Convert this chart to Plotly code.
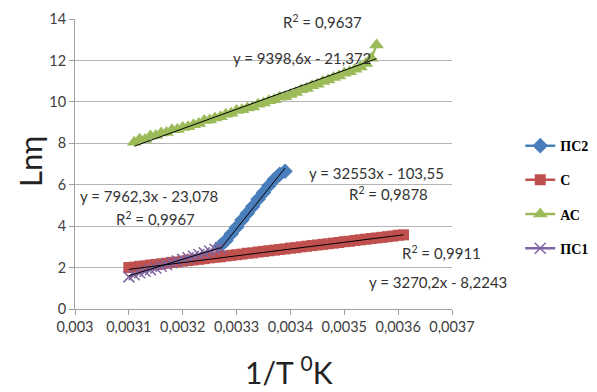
import plotly.graph_objects as go

# ---------------- data ----------------
ps2_x = [0.00327, 0.00328, 0.00329, 0.00330, 0.00331, 0.00332, 0.00333,
         0.00334, 0.00335, 0.00336, 0.00337, 0.00338, 0.00339]
ps2_y = [3.05, 3.30, 3.62, 3.95, 4.30, 4.62, 4.95, 5.30, 5.62, 5.95, 6.25, 6.50, 6.65]

c_x = [0.00310, 0.00311, 0.00312, 0.00313, 0.00314, 0.00315, 0.00316, 0.00317,
       0.00318, 0.00319, 0.00320, 0.00321, 0.00322, 0.00323, 0.00324, 0.00325,
       0.00326, 0.00327, 0.00328, 0.00329, 0.00330, 0.00331, 0.00332, 0.00333,
       0.00334, 0.00335, 0.00336, 0.00337, 0.00338, 0.00339, 0.00340, 0.00341,
       0.00342, 0.00343, 0.00344, 0.00345, 0.00346, 0.00347, 0.00348, 0.00349,
       0.00350, 0.00351, 0.00352, 0.00353, 0.00354, 0.00355, 0.00356, 0.00357,
       0.00358, 0.00359, 0.00360, 0.00361]
c_y = [2.00, 2.02, 2.06, 2.08, 2.12, 2.15, 2.18, 2.21, 2.25, 2.27, 2.31, 2.34,
       2.37, 2.40, 2.43, 2.47, 2.50, 2.52, 2.56, 2.59, 2.62, 2.65, 2.69, 2.71,
       2.75, 2.78, 2.81, 2.84, 2.87, 2.90, 2.94, 2.96, 3.00, 3.03, 3.06, 3.09,
       3.12, 3.15, 3.18, 3.21, 3.25, 3.27, 3.31, 3.34, 3.37, 3.40, 3.43, 3.46,
       3.49, 3.52, 3.56, 3.58]

ac_x = [0.00311, 0.00312, 0.00313, 0.00314, 0.00315, 0.00316, 0.00317, 0.00318,
        0.00319, 0.00320, 0.00321, 0.00322, 0.00323, 0.00324, 0.00325, 0.00326,
        0.00327, 0.00328, 0.00329, 0.00330, 0.00331, 0.00332, 0.00333, 0.00334,
        0.00335, 0.00336, 0.00337, 0.00338, 0.00339, 0.00340, 0.00341, 0.00342,
        0.00343, 0.00344, 0.00345, 0.00346, 0.00347, 0.00348, 0.00349, 0.00350,
        0.00351, 0.00352, 0.00353, 0.00354, 0.00355, 0.00356]
ac_y = [8.05, 8.20, 8.18, 8.35, 8.38, 8.50, 8.52, 8.65, 8.66, 8.76, 8.80, 8.90,
        8.95, 9.10, 9.12, 9.22, 9.28, 9.40, 9.45, 9.58, 9.62, 9.70, 9.75, 9.88,
        9.95, 10.05, 10.10, 10.22, 10.25, 10.35, 10.45, 10.58, 10.65, 10.78,
        10.85, 10.98, 11.05, 11.18, 11.25, 11.38, 11.45, 11.58, 11.68, 11.85,
        12.10, 12.75]

ps1_x = [0.00310, 0.00311, 0.00312, 0.00313, 0.00314, 0.00315, 0.00316, 0.00317,
         0.00318, 0.00319, 0.00320, 0.00321, 0.00322, 0.00323, 0.00324, 0.00325,
         0.00326, 0.00327]
ps1_y = [1.55, 1.65, 1.75, 1.82, 1.90, 1.98, 2.06, 2.15, 2.23, 2.31, 2.40, 2.47,
         2.55, 2.63, 2.71, 2.80, 2.88, 2.96]

# linear trend coefficients (slope, intercept) as printed on the chart
fit_ps2 = (32553, -103.55)
fit_c = (3270.2, -8.2243)
fit_ac = (9398.6, -21.372)
fit_ps1 = (7962.3, -23.078)

x_ticks = [0.003, 0.0031, 0.0032, 0.0033, 0.0034, 0.0035, 0.0036, 0.0037]
x_tick_text = ["0,003", "0,0031", "0,0032", "0,0033", "0,0034", "0,0035", "0,0036", "0,0037"]
y_ticks = [0, 2, 4, 6, 8, 10, 12, 14]

# ---------------- figure ----------------
BLUE = "#4a7ebb"
RED = "#c0504d"
GREEN = "#9bbb59"
PURPLE = "#8064a2"

fig = go.Figure()

series = [
    ("ПС2", ps2_x, ps2_y, BLUE, "diamond", 12),
    ("С", c_x, c_y, RED, "square", 11),
    ("АС", ac_x, ac_y, GREEN, "triangle-up", 13),
    ("ПС1", ps1_x, ps1_y, PURPLE, "x-thin", 11),
]
for name, xs, ys, col, sym, sz in series:
    fig.add_trace(go.Scatter(
        x=xs, y=ys, name=name, mode="lines+markers",
        line=dict(color=col, width=2.5),
        marker=dict(symbol=sym, size=sz, color=col,
                    line=dict(color=col, width=1.5 if sym == "x-thin" else 0)),
        legendgroup=name,
    ))

for (k, b), xs in [(fit_ps2, ps2_x), (fit_c, c_x), (fit_ac, ac_x), (fit_ps1, ps1_x)]:
    x0, x1 = xs[0], xs[-1]
    fig.add_trace(go.Scatter(
        x=[x0, x1], y=[k * x0 + b, k * x1 + b], mode="lines",
        line=dict(color="black", width=1), showlegend=False, hoverinfo="skip",
    ))

ann_font = dict(family="Lato, Open Sans, sans-serif", size=15, color="#333333")
labels = [
    ("R<sup>2</sup> = 0,9637", 0.0034600, 13.86),
    ("y = 9398,6x - 21,372", 0.0034215, 12.12),
    ("y = 32553x - 103,55", 0.0035600, 6.57),
    ("R<sup>2</sup> = 0,9878", 0.0035830, 5.60),
    ("y = 7962,3x - 23,078", 0.0031374, 5.46),
    ("R<sup>2</sup> = 0,9967", 0.0031500, 4.39),
    ("R<sup>2</sup> = 0,9911", 0.0036800, 2.75),
    ("y = 3270,2x - 8,2243", 0.0036740, 1.30),
]
for txt, x, y in labels:
    fig.add_annotation(x=x, y=y, xref="x", yref="y", text=txt, showarrow=False,
                       font=ann_font, xanchor="center", yanchor="middle")

# page offset of the browser body (8 px) is compensated in the margins
L, T, PW, PH = 67, 11, 377, 290
W, H = 589, 384

title_font = dict(family="Lato, sans-serif", size=30, color="#222222")
fig.add_annotation(x=(281 - L) / PW, y=1 - (362 - T) / PH, xref="paper", yref="paper",
                   text="1/T <sup>0</sup>K", showarrow=False, font=title_font,
                   xanchor="center", yanchor="middle")
fig.add_annotation(x=(22 - L) / PW, y=1 - (154 - T) / PH, xref="paper", yref="paper",
                   text="Lnη", showarrow=False, textangle=-90,
                   font=dict(family="Lato, sans-serif", size=31, color="#222222"),
                   xanchor="center", yanchor="middle")

tick_font = dict(family="Lato, Open Sans, sans-serif", size=14.5, color="#404040")
fig.update_layout(
    width=W, height=H,
    margin=dict(l=L, r=W - L - PW, t=T, b=H - T - PH, autoexpand=False),
    paper_bgcolor="white", plot_bgcolor="white",
    xaxis=dict(range=[0.003, 0.0037], tickvals=x_ticks, ticktext=x_tick_text,
               showgrid=False, zeroline=False, showline=True, linecolor="#a0a0a0",
               ticks="outside", ticklen=5, tickcolor="#a0a0a0", tickfont=tick_font,
               automargin=False),
    yaxis=dict(range=[0, 14], tickvals=y_ticks, showgrid=True, gridcolor="#b4b4b4",
               zeroline=False, showline=True, linecolor="#a0a0a0",
               ticks="outside", ticklen=5, tickcolor="#a0a0a0", tickfont=tick_font,
               automargin=False),
    legend=dict(x=1.181, y=0.617, xanchor="left", yanchor="top",
                font=dict(family="Liberation Serif, serif", size=14, color="black",
                          weight="bold"),
                tracegroupgap=13, itemwidth=30, bgcolor="rgba(0,0,0,0)"),
    showlegend=True,
)

fig.write_html("out.html")
